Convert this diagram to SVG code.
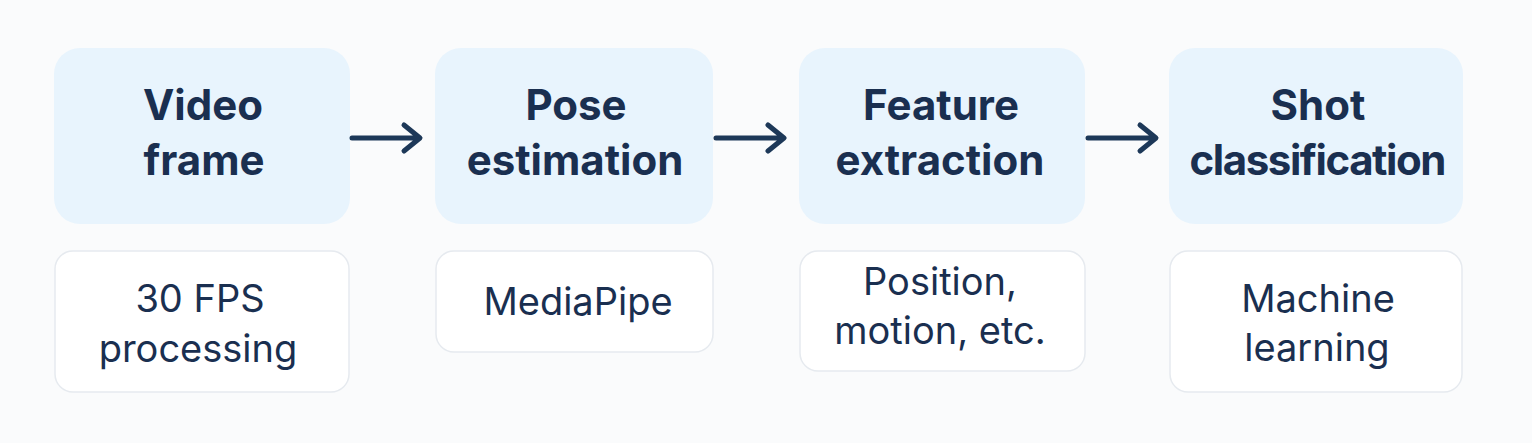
<svg xmlns="http://www.w3.org/2000/svg" width="1532" height="443" viewBox="0 0 1532 443">
  <style>
    .top { fill: #e8f4fd; }
    .sub { fill: #ffffff; stroke: #e6eaef; stroke-width: 1.5; }
    .title { font-family: Inter, "Liberation Sans", sans-serif; font-weight: 700; font-size: 42px; fill: #1a2f50; text-anchor: middle; }
    .desc { font-family: Inter, "Liberation Sans", sans-serif; font-weight: 400; font-size: 38px; fill: #1a2f50; text-anchor: middle; }
    .conn { fill: none; stroke: #1d3858; stroke-width: 5; stroke-linecap: round; stroke-linejoin: round; }
  </style>
  <rect width="1532" height="443" fill="#fafbfc"/>

  <g id="node-video-frame">
    <rect class="top" x="54" y="48" width="296" height="176" rx="26"/>
    <text class="title" x="203" y="120">Video</text>
    <text class="title" x="204" y="175">frame</text>
  </g>
  <g id="note-video-frame">
    <rect class="sub" x="55" y="251" width="294" height="141" rx="18"/>
    <text class="desc" x="200" y="312">30 FPS</text>
    <text class="desc" x="198" y="362">processing</text>
  </g>

  <g id="node-pose-estimation">
    <rect class="top" x="435" y="48" width="278" height="176" rx="26"/>
    <text class="title" x="576" y="120">Pose</text>
    <text class="title" x="575" y="175">estimation</text>
  </g>
  <g id="note-pose-estimation">
    <rect class="sub" x="436" y="251" width="277" height="101" rx="18"/>
    <text class="desc" x="578" y="315">MediaPipe</text>
  </g>

  <g id="node-feature-extraction">
    <rect class="top" x="799" y="48" width="286" height="176" rx="26"/>
    <text class="title" x="941" y="120">Feature</text>
    <text class="title" x="940" y="175">extraction</text>
  </g>
  <g id="note-feature-extraction">
    <rect class="sub" x="800" y="251" width="285" height="120" rx="18"/>
    <text class="desc" x="940" y="295">Position,</text>
    <text class="desc" x="940" y="344">motion, etc.</text>
  </g>

  <g id="node-shot-classification">
    <rect class="top" x="1169" y="48" width="294" height="176" rx="26"/>
    <text class="title" x="1318" y="120">Shot</text>
    <text class="title" x="1318" y="175" textLength="257">classification</text>
  </g>
  <g id="note-shot-classification">
    <rect class="sub" x="1170" y="251" width="292" height="141" rx="18"/>
    <text class="desc" x="1318" y="312">Machine</text>
    <text class="desc" x="1317" y="361">learning</text>
  </g>

  <g id="connectors">
    <path class="conn" d="M352 138 H419 M404 125 L420 138 L404 151"/>
    <path class="conn" d="M716 138 H783 M768 125 L784 138 L768 151"/>
    <path class="conn" d="M1088 138 H1155 M1140 125 L1156 138 L1140 151"/>
  </g>
</svg>
